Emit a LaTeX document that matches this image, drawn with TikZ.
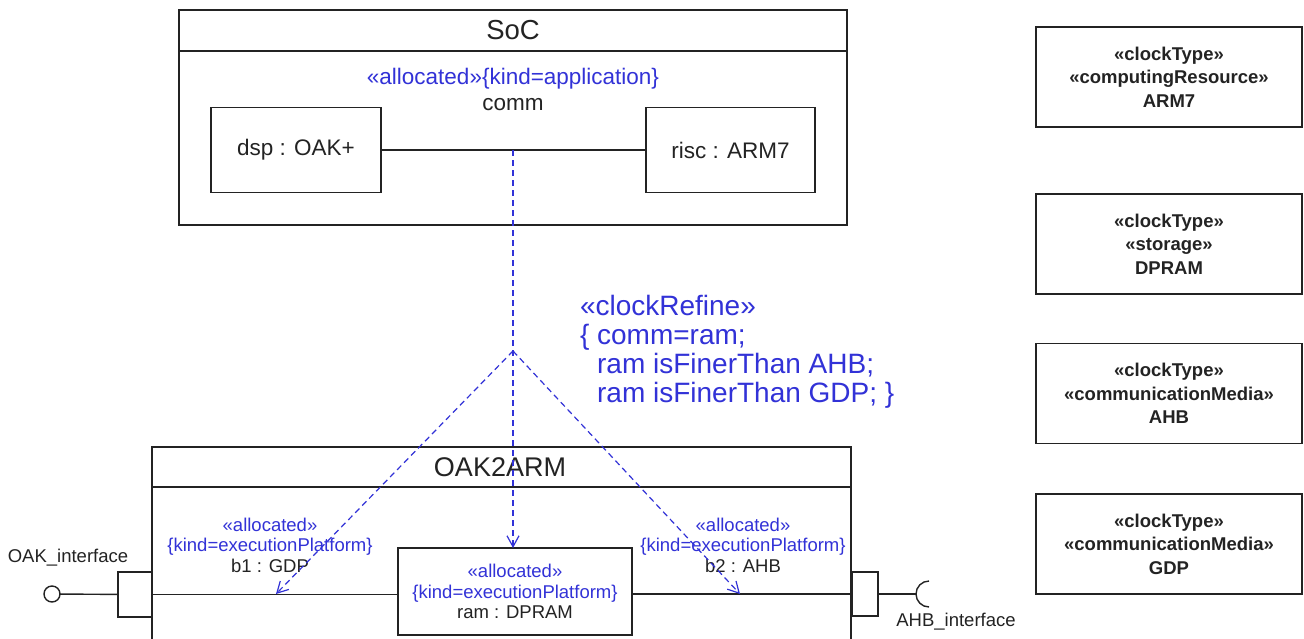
\documentclass[tikz,border=0pt]{standalone}
\usepackage{fontspec}
\setmainfont{Liberation Sans}
\usetikzlibrary{arrows.meta}
\definecolor{umlblue}{RGB}{50,50,215}
\definecolor{ink}{RGB}{35,35,35}
\begin{document}
\begin{tikzpicture}[x=1pt,y=-1pt,
  every node/.style={inner sep=0pt, outer sep=0pt, text=ink, font=\fontsize{18.5}{20.5}\selectfont},
  big/.style={font=\fontsize{22.5}{25}\selectfont},
  box/.style={draw=ink, line width=1.8pt},
  part/.style={draw=ink, line width=1.4pt},
  wire/.style={draw=ink, line width=1.4pt},
  alloc/.style={align=center, text=umlblue},
  depline/.style={draw=umlblue, line width=1.2pt, dash pattern=on 6pt off 4pt},
  dep/.style={depline, -{Straight Barb[length=11pt, width=12pt, line width=1.2pt]}},
  title/.style={font=\fontsize{27.5}{31}\selectfont},
  clk/.style={box, minimum width=266pt, minimum height=100pt, align=center, font=\fontsize{18.5}{23.5}\selectfont\bfseries}
]
\useasboundingbox[fill=white] (0,0) rectangle (1304,638);

% ---------- SoC ----------
\node[box, anchor=north west, minimum width=668pt, minimum height=215pt] (soc) at (179,10) {};
\coordinate (socsep) at (0,51);
\draw[box] (soc.west |- socsep) -- (soc.east |- socsep);
\node[title] (soctitle) at (513,30) {SoC};
\node[alloc, big] (socalloc) at (513,79) {«allocated»\{kind=application\}};
\node[big] (commlbl) at (513,105) {comm};
\node[part, big, minimum width=170pt, minimum height=85pt] (dsp) at (296,150) {dsp : OAK+};
\node[part, big, minimum width=169pt, minimum height=85pt] (risc) at (730.5,150) {risc : ARM7};
\draw[wire] (dsp) -- (risc);
\coordinate (comm) at (513,150);

% ---------- OAK2ARM ----------
\node[box, anchor=north west, minimum width=699pt, minimum height=240pt] (oak) at (152,447) {};
\coordinate (oaksep) at (0,487);
\draw[box] (oak.west |- oaksep) -- (oak.east |- oaksep);
\node[title, font=\fontsize{27}{31}\selectfont] (oaktitle) at (500,467) {OAK2ARM};

\node[part, alloc, minimum width=234pt, minimum height=87pt] (ram) at (515,591.5)
  {«allocated»\\\{kind=executionPlatform\}\\\textcolor{ink}{ram : DPRAM}};

\node[part, minimum width=34pt, minimum height=45pt] (lport) at (135,594.5) {};
\node[part, minimum width=26pt, minimum height=44pt] (rport) at (865,594) {};
\draw[wire] (lport.east) -- (ram.west |- lport.east);
\draw[wire] (ram.east |- rport.west) -- (rport.west);

% provided / required interfaces
\node[draw=ink, circle, line width=1.4pt, minimum size=16pt] (lolli) at (52,594) {};
\draw[wire] (lolli) -- (lport);
\node (oaki) at (68,558) {OAK\_interface};
\coordinate (sock) at (917,594);
\coordinate (socktop) at (929,581);
\draw[wire] (rport.east |- sock) -- (sock);
\draw[wire] (socktop) arc[start angle=90, end angle=270, radius=13pt];
\node (ahbi) at (956,622) {AHB\_interface};

% part labels
\node[alloc] (b1lbl) at (270,545) {«allocated»\\\{kind=executionPlatform\}\\\textcolor{ink}{b1 : GDP}};
\node[alloc] (b2lbl) at (743,545) {«allocated»\\\{kind=executionPlatform\}\\\textcolor{ink}{b2 : AHB}};
\coordinate (b1tip) at (276,594);
\coordinate (b2tip) at (740,594);

% ---------- clockRefine dependency ----------
\coordinate (junc) at (513,351);
\draw[dep] (comm) -- (comm |- ram.north);
\draw[dep] (junc) -- (b1tip);
\draw[dep] (junc) -- (b2tip);
\node[anchor=west, align=left, text=umlblue, font=\fontsize{28}{29}\selectfont] (refine) at (580,352)
  {«clockRefine»\\\{ comm=ram;\\\hphantom{\{ }ram isFinerThan AHB;\\\hphantom{\{ }ram isFinerThan GDP; \}};

% ---------- clock types ----------
\node[clk] (arm7) at (1169,77) {«clockType»\\«computingResource»\\ARM7};
\node[clk] (dpram) at (1169,244) {«clockType»\\«storage»\\DPRAM};
\node[clk] (ahb) at (1169,393.5) {«clockType»\\«communicationMedia»\\AHB};
\node[clk] (gdp) at (1169,544) {«clockType»\\«communicationMedia»\\GDP};
\end{tikzpicture}
\end{document}
